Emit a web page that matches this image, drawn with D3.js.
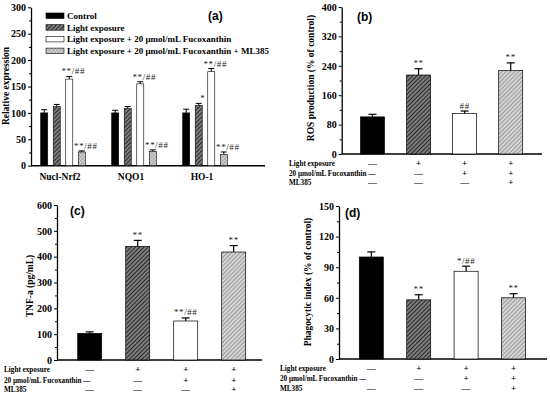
<!DOCTYPE html>
<html lang="en">
<head>
<meta charset="UTF-8">
<title>Fucoxanthin</title>
<script src="https://d3js.org/d3.v7.min.js"></script>
<style>
    html, body { margin: 0; background: #fff; overflow: hidden; }
</style>
</head>
<body>
<svg id="svg" width="550" height="396"></svg>
<script>
// ---- panel (a) data
const genes = ['Nucl-Nrf2', 'NQO1', 'HO-1'];
const groupsA = ['Control', 'Light exposure', 'Light exposure + 20 μmol/mL Fucoxanthin', 'Light exposure + 20 μmol/mL Fucoxanthin + ML385'];
const expr = [[100, 112, 164, 26], [100, 108, 155, 27], [100, 114, 178, 21]];
const exprErr = [[6, 4, 5, 2], [5, 4, 4, 3], [7, 4, 6, 5]];
const exprMarks = [['', '', '**/##', '**/##'], ['', '', '**/##', '**/##'], ['', '*', '**/##', '**/##']];
const ticksA = [0, 50, 100, 150, 200, 250, 300];

// ---- panels (b)-(d) data
const treatments = ['ctrl', 'light', 'light+fx', 'light+fx+ml'];
const condRows = ['Light exposure', '20 μmol/mL Fucoxanthin —', 'ML385'];
const condSigns = [['—', '+', '+', '+'], ['', '—', '+', '+'], ['—', '—', '—', '+']];

const ros = [101, 215, 110, 227];
const rosErr = [7, 17, 7, 21];
const rosMarks = ['', '**', '##', '**'];
const ticksB = [0, 80, 160, 240, 320, 400];

const tnf = [103, 440, 151, 418];
const tnfErr = [6, 23, 12, 25];
const tnfMarks = ['', '**', '**/##', '**'];
const ticksC = [0, 100, 200, 300, 400, 500, 600];

const phago = [100, 58, 86, 60];
const phagoErr = [5, 5, 5, 4];
const phagoMarks = ['', '**', '*/##', '**'];
const ticksD = [0, 30, 60, 90, 120, 150];

const serif = '"Liberation Serif", "Times New Roman", serif';
const sans = '"Liberation Sans", Arial, sans-serif';

const svg = d3.select('#svg');
const defs = svg.append('defs');

function hatch(id, bg, fg, w, size, cross) {
    const p = defs.append('pattern').attr('id', id)
        .attr('patternUnits', 'userSpaceOnUse')
        .attr('width', size).attr('height', size)
        .attr('patternTransform', 'rotate(45)');
    p.append('rect').attr('width', size).attr('height', size).attr('fill', bg);
    p.append('line').attr('x1', 0).attr('y1', 0).attr('x2', 0).attr('y2', size)
        .attr('stroke', fg).attr('stroke-width', w);
    if (cross) {
        p.append('line').attr('x1', 0).attr('y1', 0).attr('x2', size).attr('y2', 0)
            .attr('stroke', fg).attr('stroke-width', w);
    }
}
hatch('dark', '#7c7c7c', '#1c1c1c', 1.7, 3, false);
hatch('light', '#d4d4d4', '#5e5e5e', 1, 3, false);
hatch('cross', '#d6d6d6', '#808080', 0.8, 2.6, true);

const fillA = d3.scaleOrdinal().domain(groupsA).range(['#000', 'url(#dark)', '#fff', 'url(#cross)']);
const fillT = d3.scaleOrdinal().domain(treatments).range(['#000', 'url(#dark)', '#fff', 'url(#light)']);

function yAxis(g, y, x0, ticks) {
    const ax = g.append('g').attr('transform', `translate(${x0},0)`)
        .call(d3.axisLeft(y).tickValues(ticks).tickSize(3).tickSizeOuter(0).tickPadding(2))
        .attr('font-family', serif).attr('font-size', 10).attr('font-weight', 'bold');
    ax.select('.domain').attr('stroke-width', 1.3);
    const step = ticks[1] - ticks[0];
    const minor = ticks.slice(0, -1).map(t => t + step / 2);
    g.append('g').attr('transform', `translate(${x0},0)`)
        .call(d3.axisLeft(y).tickValues(minor).tickSize(2).tickFormat(''))
        .select('.domain').remove();
}

function title(g, text, x, y) {
    g.append('text').attr('transform', `translate(${x},${y}) rotate(-90)`)
        .attr('text-anchor', 'middle').attr('font-family', serif)
        .attr('font-weight', 'bold').attr('font-size', 9.5).text(text);
}

function letter(g, text, x, y) {
    g.append('text').attr('x', x).attr('y', y).attr('font-family', sans)
        .attr('font-weight', 'bold').attr('font-size', 12).text(text);
}

// ---- panel (a)
{
    const g = svg.append('g');
    const y = d3.scaleLinear().domain([0, 300]).range([165.7, 7.3]);
    const x = d3.scaleBand().domain(genes).range([27.5, 240.5]);
    const xi = d3.scaleBand().domain(groupsA).range([13.2, 57.8]).paddingInner(0.44);

    yAxis(g, y, 31, ticksA);
    g.append('line').attr('x1', 31).attr('x2', 265).attr('y1', y(0)).attr('y2', y(0))
        .attr('stroke', '#000').attr('stroke-width', 1.5);

    genes.forEach((gene, gi) => {
        const gg = g.append('g').attr('transform', `translate(${x(gene)},0)`);
        const rows = groupsA.map((s, si) => ({ s, v: expr[gi][si], e: exprErr[gi][si], m: exprMarks[gi][si] }));
        gg.selectAll('line.err').data(rows).join('line').attr('class', 'err')
            .attr('x1', d => xi(d.s) + xi.bandwidth() / 2).attr('x2', d => xi(d.s) + xi.bandwidth() / 2)
            .attr('y1', d => y(d.v)).attr('y2', d => y(d.v + d.e)).attr('stroke', '#000');
        gg.selectAll('line.cap').data(rows).join('line').attr('class', 'cap')
            .attr('x1', d => xi(d.s) + xi.bandwidth() / 2 - 3).attr('x2', d => xi(d.s) + xi.bandwidth() / 2 + 3)
            .attr('y1', d => y(d.v + d.e)).attr('y2', d => y(d.v + d.e)).attr('stroke', '#000');
        gg.selectAll('rect').data(rows).join('rect')
            .attr('x', d => xi(d.s)).attr('width', xi.bandwidth())
            .attr('y', d => y(d.v)).attr('height', d => y(0) - y(d.v))
            .attr('fill', d => fillA(d.s)).attr('stroke', '#000').attr('stroke-width', 0.6);
        gg.selectAll('text.mark').data(rows).join('text').attr('class', 'mark')
            .attr('x', d => xi(d.s) + xi.bandwidth() / 2 + 4).attr('y', d => y(d.v + d.e) - 2)
            .attr('text-anchor', 'middle').attr('font-family', serif).attr('font-size', 9)
            .attr('letter-spacing', 0.6).attr('fill', '#222').text(d => d.m);
        gg.append('text').attr('x', x.bandwidth() / 2 - 3).attr('y', 180)
            .attr('text-anchor', 'middle').attr('font-family', serif).attr('font-weight', 'bold')
            .attr('font-size', 9.5).text(gene);
    });

    const lg = g.append('g');
    groupsA.forEach((s, i) => {
        lg.append('rect').attr('x', 46).attr('y', 13 + i * 11.7).attr('width', 18).attr('height', 5.5)
            .attr('fill', fillA(s)).attr('stroke', '#000').attr('stroke-width', 0.6);
        lg.append('text').attr('x', 67).attr('y', 19 + i * 11.7)
            .attr('font-family', serif).attr('font-weight', 'bold').attr('font-size', 9).text(s);
    });

    title(g, 'Relative expression', 9, 86);
    letter(g, '(a)', 208, 20);
}

// ---- panels (b)-(d)
function conditionPanel(o) {
    const g = svg.append('g');
    const x = d3.scalePoint().domain(treatments).range([o.c0, o.c3]);
    const y = d3.scaleLinear().domain([0, o.max]).range([o.bottom, o.top]);
    const bw = 24;
    const rows = treatments.map((t, i) => ({ t, v: o.values[i], e: o.errs[i], m: o.marks[i] }));

    yAxis(g, y, o.axisX, o.ticks);
    g.append('line').attr('x1', o.axisX).attr('x2', o.axisEnd).attr('y1', y(0)).attr('y2', y(0))
        .attr('stroke', '#000').attr('stroke-width', 1.5);

    g.selectAll('line.err').data(rows).join('line').attr('class', 'err')
        .attr('x1', d => x(d.t)).attr('x2', d => x(d.t))
        .attr('y1', d => y(d.v)).attr('y2', d => y(d.v + d.e)).attr('stroke', '#000').attr('stroke-width', 1.2);
    g.selectAll('line.cap').data(rows).join('line').attr('class', 'cap')
        .attr('x1', d => x(d.t) - 4).attr('x2', d => x(d.t) + 4)
        .attr('y1', d => y(d.v + d.e)).attr('y2', d => y(d.v + d.e)).attr('stroke', '#000').attr('stroke-width', 1.2);
    g.selectAll('rect').data(rows).join('rect')
        .attr('x', d => x(d.t) - bw / 2).attr('width', bw)
        .attr('y', d => y(d.v)).attr('height', d => y(0) - y(d.v))
        .attr('fill', d => fillT(d.t)).attr('stroke', '#000').attr('stroke-width', 0.7);
    g.selectAll('text.mark').data(rows).join('text').attr('class', 'mark')
        .attr('x', d => x(d.t)).attr('y', d => y(d.v + d.e) - 2.5)
        .attr('text-anchor', 'middle').attr('font-family', serif).attr('font-size', 9)
        .attr('letter-spacing', 0.6).attr('fill', '#222').text(d => d.m);

    condRows.forEach((r, ri) => {
        g.append('text').attr('x', o.labelX).attr('y', o.rowY[ri])
            .attr('font-family', serif).attr('font-weight', 'bold').attr('font-size', 7.2).text(r);
        g.selectAll(null).data(condSigns[ri].map((s, i) => ({ s, t: treatments[i] }))).join('text')
            .attr('x', d => x(d.t)).attr('y', o.rowY[ri])
            .attr('text-anchor', 'middle').attr('font-family', serif).attr('font-weight', 'bold')
            .attr('font-size', 9).text(d => d.s);
    });

    title(g, o.title, o.titleX, o.titleY);
    letter(g, o.letter, o.letterX, o.letterY);
}

conditionPanel({
    values: ros, errs: rosErr, marks: rosMarks, ticks: ticksB, max: 400,
    axisX: 341.7, axisEnd: 542, top: 7, bottom: 154, c0: 372.5, c3: 510.7,
    labelX: 289, rowY: [166, 176, 184.5],
    title: 'ROS production (% of control)', titleX: 314, titleY: 78,
    letter: '(b)', letterX: 357, letterY: 21
});

conditionPanel({
    values: tnf, errs: tnfErr, marks: tnfMarks, ticks: ticksC, max: 600,
    axisX: 57, axisEnd: 262, top: 205, bottom: 360, c0: 89.7, c3: 233.7,
    labelX: 4, rowY: [372, 382.5, 391.5],
    title: 'TNF-a (pg/mL)', titleX: 33, titleY: 286,
    letter: '(c)', letterX: 70, letterY: 215
});

conditionPanel({
    values: phago, errs: phagoErr, marks: phagoMarks, ticks: ticksD, max: 150,
    axisX: 339, axisEnd: 547, top: 206, bottom: 359, c0: 371.3, c3: 513.5,
    labelX: 280, rowY: [371, 381, 390.5],
    title: 'Phagocytic index (% of control)', titleX: 311, titleY: 282,
    letter: '(d)', letterX: 345, letterY: 217
});
</script>
</body>
</html>
